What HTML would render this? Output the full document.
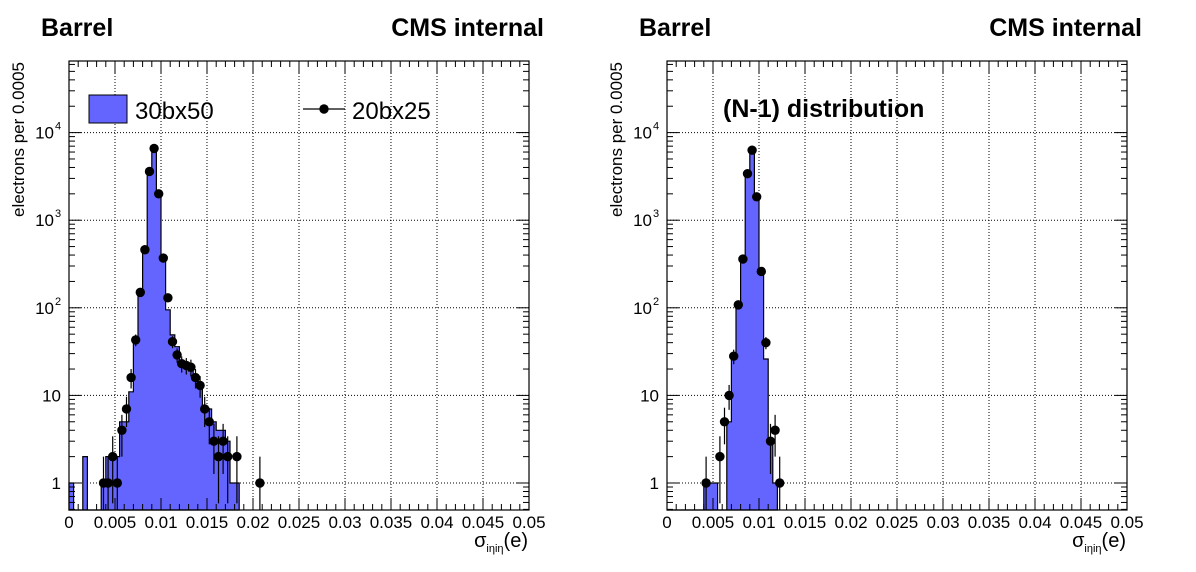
<!DOCTYPE html>
<html><head><meta charset="utf-8"><style>
html,body{margin:0;padding:0;background:#fff;}
svg{display:block;font-family:"Liberation Sans",sans-serif;}
</style></head><body>
<svg id="root" width="1196" height="572" viewBox="0 0 1196 572"></svg>
<script>
// Left panel data (bins of 0.0005, indexed from 0)
const leftHistBins = [0,3,7,8,9,10,11,12,13,14,15,16,17,18,19,20,21,22,23,24,25,26,27,28,29,30,31,32,33,34,35,36];
const leftHistVals = [1,2,1,2,2,2,5,5,11,45,150,460,3600,6200,2050,370,95,49,36,25,22,19,16,12,7,7,5,4,4,3,1,1];
const leftPtBins = [7,8,9,10,11,12,13,14,15,16,17,18,19,20,21,22,23,24,25,26,27,28,29,30,31,32,33,34,36,41];
const leftPtVals = [1,1,2,1,4,7,16,43,150,460,3600,6600,2000,370,130,41,29,23,22,21,16,13,7,5,3,2,3,2,2,1];
// Right panel data
const rightHistBins = [8,9,10,13,14,15,16,17,18,19,20,21,22,23];
const rightHistVals = [1,1,1,5,28,108,360,3400,6300,1850,260,26,3,1];
const rightPtBins = [8,11,12,13,14,15,16,17,18,19,20,21,22,23,24];
const rightPtVals = [1,2,5,10,28,108,360,3400,6300,1850,260,40,3,4,1];
const xTickLabels = ["0","0.005","0.01","0.015","0.02","0.025","0.03","0.035","0.04","0.045","0.05"];
const yDecades = [1,10,100,1000,10000];

const NS="http://www.w3.org/2000/svg";
const root=document.getElementById('root');
function mk(tag,attrs,parent){const e=document.createElementNS(NS,tag);for(const k in attrs)e.setAttribute(k,attrs[k]);(parent||root).appendChild(e);return e;}

function panel(ox, hb, hv, pb, pv, name){
  const L=ox, R=ox+460, T=61, B=510;
  const X=v=>L+(v/0.05)*(R-L);
  const yLog1=483, dec=87.6;
  const Y=v=>yLog1-Math.log10(v)*dec;
  const g=mk('g',{});
  
  
  const grid=mk('g',{},g);
  
  
  for(let i=1;i<10;i++){const x=X(i*0.005);mk('line',{x1:x,x2:x,y1:T,y2:B,stroke:'#000','stroke-width':1,'stroke-dasharray':'1,2'},grid);}
  yDecades.forEach(d=>{const y=Y(d);mk('line',{x1:L,x2:R,y1:y,y2:y,stroke:'#000','stroke-width':1,'stroke-dasharray':'1,2'},grid);});
  const bw=0.0005;
  const base=B;
  const hmap={};hb.forEach((b,i)=>hmap[b]=hv[i]);
  const maxb=Math.max(...hb);
  let pts=[[X(0),base]];
  for(let b=0;b<=maxb;b++){const v=hmap[b];const y=v?Math.max(Y(v),T):base;pts.push([X(b*bw),y]);pts.push([X((b+1)*bw),y]);}
  pts.push([X((maxb+1)*bw),base]);
  const d='M'+pts.map(p=>p[0].toFixed(1)+','+p[1].toFixed(1)).join('L')+'Z';
  const h=mk('path',{d:d,fill:'#6464ff',stroke:'#000','stroke-width':1.2},g);
  
  
  pb.forEach((b,i)=>{
    const v=pv[i];const x=X((b+0.5)*bw);const y=Y(v);
    const e=Math.sqrt(v);
    const y1=Y(v+e);const y2=v-e>0.5?Y(v-e):B;
    mk('line',{x1:x,x2:x,y1:y1,y2:Math.min(y2,B),stroke:'#000','stroke-width':1.2},g);
    const c=mk('circle',{cx:x,cy:y,r:4.7,fill:'#000'},g);
    
    
  });
  mk('rect',{x:L,y:T,width:R-L,height:B-T,fill:'none',stroke:'#000','stroke-width':1.2},g);
  for(let i=0;i<=50;i++){const x=X(i*0.001);const len=i%5==0?12:6;
    mk('line',{x1:x,x2:x,y1:B,y2:B-len,stroke:'#000'},g);
    mk('line',{x1:x,x2:x,y1:T,y2:T+len,stroke:'#000'},g);}
  xTickLabels.forEach((t,i)=>{const tx=mk('text',{x:X(i*0.005),y:528,'font-size':17,'text-anchor':'middle'},g);tx.textContent=t;
    
    });
  for(let p=-1;p<=4;p++){for(let m=1;m<10;m++){const v=m*Math.pow(10,p);const y=Y(v);if(y<T||y>B)continue;const len=m==1?12:6;
    mk('line',{x1:L,x2:L+len,y1:y,y2:y,stroke:'#000'},g);mk('line',{x1:R,x2:R-len,y1:y,y2:y,stroke:'#000'},g);}}
  const ylab=[["1",null],["10",null],["10","2"],["10","3"],["10","4"]];
  ylab.forEach((l,i)=>{const y=Y(yDecades[i]);const tx=mk('text',{x:l[1]?L-15:L-8,y:y+6,'font-size':17,'text-anchor':'end'},g);tx.textContent=l[0];
    
    
    if(l[1]){const s=mk('text',{x:L-14,y:y-3,'font-size':11},g);s.textContent=l[1];}});
  const yt=mk('text',{x:0,y:0,'font-size':17,'text-anchor':'end',transform:`translate(${L-45},${T+1}) rotate(-90)`},g);yt.textContent='electrons per 0.0005';
  
  
  const xt=mk('text',{x:R-1,y:547,'font-size':20,'text-anchor':'end'},g);
  xt.innerHTML='σ<tspan font-size="11" dy="5">iηiη</tspan><tspan dy="-5">(e)</tspan>';
  
  
  const b1=mk('text',{x:L-28,y:36,'font-size':25,'font-weight':'bold'},g);b1.textContent='Barrel';
  
  
  const b2=mk('text',{x:R+15,y:36,'font-size':25,'font-weight':'bold','text-anchor':'end'},g);b2.textContent='CMS internal';
  
  
  return g;
}
panel(69,leftHistBins,leftHistVals,leftPtBins,leftPtVals,'left-panel');
panel(667,rightHistBins,rightHistVals,rightPtBins,rightPtVals,'right-panel');

const lg=mk('g',{});


const lr=mk('rect',{x:89,y:95,width:38,height:28,fill:'#6464ff',stroke:'#000','stroke-width':1},lg);


const lt1=mk('text',{x:135,y:119,'font-size':24},lg);lt1.textContent='30bx50';


mk('line',{x1:303,x2:345,y1:109,y2:109,stroke:'#000','stroke-width':1.2},lg);
mk('circle',{cx:324,cy:109,r:4.7,fill:'#000'},lg);
const lt2=mk('text',{x:352,y:119,'font-size':24},lg);lt2.textContent='20bx25';


const nt=mk('text',{x:723,y:117,'font-size':25,'font-weight':'bold'});nt.textContent='(N-1) distribution';


</script>
</body></html>
